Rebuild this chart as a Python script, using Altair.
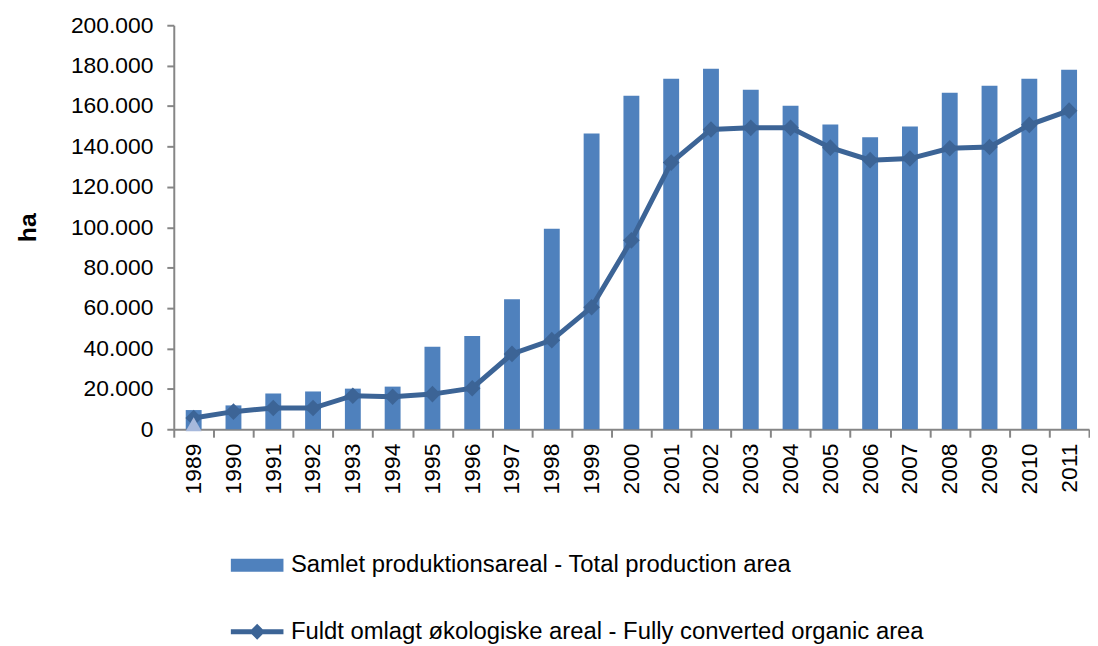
import altair as alt
import pandas as pd

years = [str(y) for y in range(1989, 2012)]
total_area = [9500, 11800, 17700, 18700, 20100, 21100, 40800, 46200, 64400, 99300,
              146400, 165100, 173500, 178400, 168000, 160200, 150900, 144500, 149900,
              166600, 170000, 173500, 177900]
full_area = [5600, 8700, 10500, 10500, 16600, 16100, 17400, 20300, 37300, 44100,
             60400, 93500, 132000, 148400, 149200, 149200, 139400, 133200, 134000,
             139100, 139700, 150700, 157700]
marker_year = ["1989"]
marker_value = [0]

s1 = "Samlet produktionsareal - Total production area"
s2 = "Fuldt omlagt økologiske areal - Fully converted organic area"

df = pd.DataFrame({"year": years, "total": total_area, "full": full_area,
                   "s1": [s1] * len(years), "s2": [s2] * len(years)})
dm = pd.DataFrame({"year": marker_year, "v": marker_value})

FONT = "Liberation Sans"
BAR = "#4f81bd"
LINE = "#3c6496"

x = alt.X("year:O", sort=years,
          scale=alt.Scale(paddingInner=0, paddingOuter=0),
          axis=alt.Axis(title=None, labelAngle=-90, labelFontSize=23, labelFont=FONT,
                        labelColor="black", labelPadding=6, tickBand="extent",
                        tickSize=8, tickColor="#868686", domainColor="#868686",
                        domainWidth=2, tickWidth=2, labelBaseline="middle",
                        labelAlign="right"))

yscale = alt.Scale(domain=[0, 200000], nice=False)
yaxis = alt.Axis(title="ha", titleFontSize=25, titleFont=FONT, titleFontWeight="bold",
                 titleColor="black", titlePadding=30,
                 values=list(range(0, 200001, 20000)),
                 labelExpr="replace(format(datum.value, ','), ',', '.')",
                 labelFontSize=23, labelFont=FONT, labelColor="black", labelPadding=14,
                 tickSize=7, tickColor="#868686", domainColor="#868686",
                 domainWidth=2, tickWidth=2, grid=False)

legend_common = dict(orient="none", title=None, symbolSize=400, symbolStrokeWidth=0,
                     labelFontSize=24, labelFont=FONT, labelColor="black",
                     labelLimit=0, padding=0, labelOffset=22)

bars = alt.Chart(df).mark_bar(size=16).encode(
    x=x,
    y=alt.Y("total:Q", scale=yscale, axis=yaxis),
    fill=alt.Fill("s1:N", scale=alt.Scale(range=[BAR]),
                  legend=alt.Legend(legendX=72, legendY=532,
                                    symbolType="M-2.65,-0.65H2.65V0.65H-2.65Z",
                                    **legend_common)),
)

tri = alt.Chart(dm).mark_point(shape="triangle-up", filled=True, size=260,
                               color="#a7b9dc", opacity=1, yOffset=-5).encode(
    x=alt.X("year:O", sort=years), y=alt.Y("v:Q", scale=yscale))

line = alt.Chart(df).mark_line(strokeWidth=5, color=LINE).encode(
    x=alt.X("year:O", sort=years), y=alt.Y("full:Q", scale=yscale))

pts = alt.Chart(df).mark_point(shape="diamond", filled=True, size=280, opacity=1).encode(
    x=alt.X("year:O", sort=years), y=alt.Y("full:Q", scale=yscale),
    fill=alt.Fill("s2:N", scale=alt.Scale(range=[LINE]),
                  legend=alt.Legend(legendX=72, legendY=599,
                                    symbolType="M-2.65,-0.25H2.65V0.25H-2.65Z M-0.8,0L0,-0.8L0.8,0L0,0.8Z",
                                    **legend_common)),
)

chart = alt.layer(bars, line, pts, tri).resolve_scale(fill="independent").resolve_legend(
    fill="independent"
).properties(
    width=922, height=407,
    padding={"left": 7, "top": 4, "right": 0, "bottom": 0},
).configure_view(stroke=None)

chart.save("out.html", embed_options={"renderer": "svg", "actions": False})
